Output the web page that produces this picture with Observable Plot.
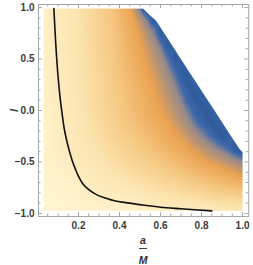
<!DOCTYPE html>
<html>
<head>
<meta charset="utf-8">
<script src="https://cdn.jsdelivr.net/npm/d3@7"></script>
<script src="https://cdn.jsdelivr.net/npm/@observablehq/plot@0.6"></script>
<style>
  html, body { margin: 0; padding: 0; background: #fff; }
  #wrap { position: relative; width: 253px; height: 265px; overflow: hidden; }
  .frac { position: absolute; left: 38px; width: 210px; top: 235px;
          display: flex; flex-direction: column; align-items: center;
          font: italic bold 10.5px "Liberation Sans", Arial, sans-serif; color: #333; line-height: 10px; }
  .frac .bar { width: 8px; height: 1.3px; background: #444; margin: 3px 0 6px; }
</style>
</head>
<body>
<div id="wrap"></div>
<script>
// ---- tick values ----
const xMajor = [0.2, 0.4, 0.6, 0.8, 1.0];
const xMinor = [0.05, 0.1, 0.15, 0.25, 0.3, 0.35, 0.45, 0.5, 0.55, 0.65, 0.7, 0.75, 0.85, 0.9, 0.95];
const yMajor = [-1.0, -0.5, 0.0, 0.5, 1.0];
const yMinor = [-0.9, -0.8, -0.7, -0.6, -0.4, -0.3, -0.2, -0.1, 0.1, 0.2, 0.3, 0.4, 0.6, 0.7, 0.8, 0.9];

// ---- black curve (a/M, l) ----
const curveX = [0.08, 0.09, 0.10, 0.11, 0.12, 0.13, 0.14, 0.155, 0.17, 0.185, 0.2, 0.22, 0.25, 0.29, 0.33, 0.38, 0.43, 0.5, 0.6, 0.7, 0.85];
const curveL = [0.99, 0.62, 0.34, 0.13, -0.03, -0.17, -0.27, -0.39, -0.49, -0.57, -0.64, -0.71, -0.77, -0.82, -0.85, -0.88, -0.895, -0.915, -0.94, -0.955, -0.975];

// ---- edge of the coloured region (upper right) ----
const boundX = [0.515, 0.545, 0.58, 0.619, 0.66, 0.70, 0.741, 0.782, 0.823, 0.864, 0.904, 0.945, 0.986, 1.0];
const boundL = [0.99, 0.93, 0.87, 0.75, 0.625, 0.5, 0.375, 0.25, 0.125, 0.0, -0.125, -0.25, -0.375, -0.405];

// ---- colour-level contours (level 0 cream ... 6 dark blue) ----
const c1X = [0.20, 0.21, 0.23, 0.25, 0.27, 0.30, 0.33, 0.38, 0.47, 0.56, 0.68, 0.82, 1.0];
const c1L = [0.99, 0.5, 0.0, -0.15, -0.3, -0.4, -0.5, -0.6, -0.7, -0.78, -0.85, -0.9, -0.94];
const c2X = [0.36, 0.37, 0.38, 0.40, 0.42, 0.44, 0.48, 0.53, 0.60, 0.68, 0.80, 0.90, 1.0];
const c2L = [0.99, 0.75, 0.5, 0.25, 0.0, -0.125, -0.25, -0.375, -0.5, -0.6, -0.7, -0.76, -0.8];
const c3X = [0.455, 0.47, 0.49, 0.505, 0.52, 0.54, 0.56, 0.58, 0.60, 0.635, 0.68, 0.74, 0.82, 0.88, 0.94, 1.0];
const c3L = [0.99, 0.875, 0.75, 0.625, 0.5, 0.375, 0.25, 0.125, 0.0, -0.125, -0.25, -0.375, -0.5, -0.55, -0.6, -0.65];
const c4X = [0.49, 0.525, 0.56, 0.59, 0.615, 0.64, 0.665, 0.69, 0.715, 0.745, 0.795, 0.87, 0.94, 1.0];
const c4L = [0.99, 0.875, 0.75, 0.625, 0.5, 0.375, 0.25, 0.125, 0.0, -0.125, -0.25, -0.375, -0.45, -0.5];
const c5X = [0.507, 0.55, 0.585, 0.615, 0.645, 0.675, 0.70, 0.725, 0.755, 0.79, 0.85, 0.94, 1.0];
const c5L = [0.99, 0.875, 0.75, 0.625, 0.5, 0.375, 0.25, 0.125, 0.0, -0.125, -0.25, -0.375, -0.45];
const c6X = [0.512, 0.565, 0.602, 0.638, 0.672, 0.708, 0.741, 0.774, 0.81, 0.847, 0.90, 0.965, 1.0];
const c6L = [0.99, 0.875, 0.75, 0.625, 0.5, 0.375, 0.25, 0.125, 0.0, -0.125, -0.25, -0.375, -0.42];
const levels = [1, 2, 3, 4, 5, 5.8];
const boundLevel = 5.4;
// left column and bottom row
const leftX = 0.03;
const leftL = [0.99, 0.5, 0.0, -0.5, -0.975];
const leftV = [0.35, 0.3, 0.25, 0.15, 0.0];
const bottomL = -0.975;
const bottomX = [0.2, 0.5, 0.8, 1.0];
const bottomV = [0.1, 0.3, 0.6, 0.85];
const outsideX = [0.75, 1.0, 1.0];
const outsideL = [0.99, 0.99, 0.3];
const outsideV = [5.4, 5.4, 5.4];
// extent of the coloured region
const fillX1 = 0.03, fillX2 = 1.0, fillL1 = -0.975, fillL2 = 0.99;

const colorStops = ["#FFF5D2", "#FCE3AD", "#F5C780", "#EBA352", "#958A8C", "#3E68AB", "#2C5898"];

// ---- build tables ----
const pts = [];
[[c1X, c1L], [c2X, c2L], [c3X, c3L], [c4X, c4L], [c5X, c5L], [c6X, c6L]].forEach(([xs, ls], k) =>
  xs.forEach((x, i) => pts.push({x, l: ls[i], v: levels[k]})));
boundX.forEach((x, i) => pts.push({x, l: boundL[i], v: boundLevel}));
leftL.forEach((l, i) => pts.push({x: leftX, l, v: leftV[i]}));
bottomX.forEach((x, i) => pts.push({x, l: bottomL, v: bottomV[i]}));
outsideX.forEach((x, i) => pts.push({x, l: outsideL[i], v: outsideV[i]}));

const curve = curveX.map((x, i) => ({x, l: curveL[i]}));
const bound = boundX.map((x, i) => ({x, l: boundL[i]}));

const W = 253, H = 232;
const mL = 38, mR = 4.8, mT = 4, mB = 16;
const frameW = W - mL - mR, frameH = H - mT - mB;
const grey = "#a6a6a6";

const fmt = d3.format(".1f");

const plot = Plot.plot({
  width: W, height: H,
  marginLeft: mL, marginRight: mR, marginTop: mT, marginBottom: mB,
  x: {domain: [0.005, 1.03]},
  y: {domain: [-1.03, 1.03]},
  color: {type: "linear", domain: [0, 6], interpolate: d3.piecewise(d3.interpolateRgb, colorStops), clamp: true},
  style: {fontFamily: "'Liberation Sans', Arial, sans-serif", fontSize: "10px", fontWeight: "bold", color: "#3a3a3a", background: "#fff"},
  marks: [
    Plot.raster(pts, {x: "x", y: "l", fill: "v", interpolate: "barycentric", pixelSize: 1,
      x1: fillX1, x2: fillX2, y1: fillL1, y2: fillL2}),
    Plot.areaX(bound, {y: "l", x1: "x", x2: () => 1.03, fill: "white"}),
    Plot.line(curve, {x: "x", y: "l", stroke: "#111", strokeWidth: 1.6, curve: "catmull-rom"}),
    Plot.frame({stroke: grey, strokeWidth: 1}),
    Plot.tickX(xMajor, {x: d => d, stroke: grey, insetTop: frameH - 4}),
    Plot.tickX(xMinor, {x: d => d, stroke: grey, insetTop: frameH - 2.5}),
    Plot.tickX(xMajor, {x: d => d, stroke: grey, insetBottom: frameH - 4}),
    Plot.tickX(xMinor, {x: d => d, stroke: grey, insetBottom: frameH - 2.5}),
    Plot.tickY(yMajor, {y: d => d, stroke: grey, insetRight: frameW - 4}),
    Plot.tickY(yMinor, {y: d => d, stroke: grey, insetRight: frameW - 2.5}),
    Plot.tickY(yMajor, {y: d => d, stroke: grey, insetLeft: frameW - 4}),
    Plot.tickY(yMinor, {y: d => d, stroke: grey, insetLeft: frameW - 2.5}),
    Plot.axisX({ticks: xMajor, tickSize: 0, tickPadding: 5, tickFormat: fmt, label: null}),
    Plot.axisY({ticks: yMajor, tickSize: 0, tickPadding: 4, tickFormat: fmt,
      label: "l", labelAnchor: "center", labelOffset: 28, labelArrow: "none"})
  ]
});

plot.querySelectorAll('[aria-label="y-axis label"] text').forEach(t => {
  t.setAttribute("font-style", "italic");
  t.setAttribute("font-size", "11");
});

const wrap = document.getElementById("wrap");
wrap.appendChild(plot);
const frac = document.createElement("div");
frac.className = "frac";
frac.innerHTML = '<div>a</div><div class="bar"></div><div>M</div>';
wrap.appendChild(frac);
</script>
</body>
</html>
